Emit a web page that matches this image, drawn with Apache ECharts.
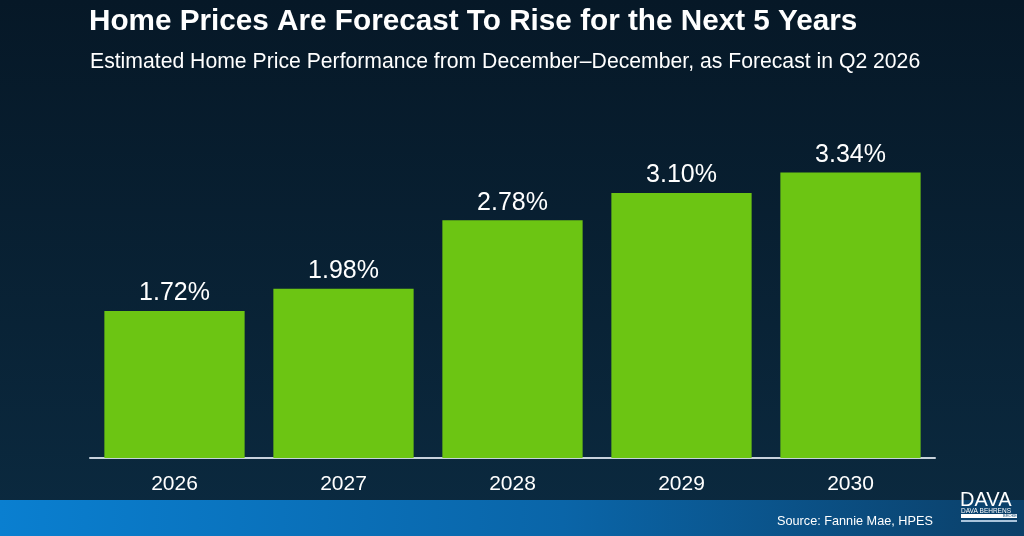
<!DOCTYPE html>
<html>
<head>
<meta charset="utf-8">
<title>Home Price Forecast</title>
<script src="https://cdn.jsdelivr.net/npm/echarts@6/dist/echarts.min.js"></script>
<style>
    html, body { margin: 0; padding: 0; background: #081c2c; }
    #chart { width: 1024px; height: 536px; }
</style>
</head>
<body>
<div id="chart"></div>
<script>
// 数据
const years = ['2026', '2027', '2028', '2029', '2030'];
const priceChange = [1.72, 1.98, 2.78, 3.10, 3.34];

const titleText = 'Home Prices Are Forecast To Rise for the Next 5 Years';
const subText = 'Estimated Home Price Performance from December\u2013December, as Forecast in Q2 2026';
const sourceText = 'Source: Fannie Mae, HPES';

const barColor = '#6cc513';
const font = '"Liberation Sans", Arial, Helvetica, sans-serif';

var chart = echarts.init(document.getElementById('chart'));

var option = {
    animation: false,
    title: [{
        text: titleText,
        left: 89,
        top: 7,
        padding: 0,
        textStyle: { color: '#ffffff', fontSize: 29.7, fontWeight: 'bold', fontFamily: font }
    }, {
        text: subText,
        left: 90,
        top: 52,
        padding: 0,
        textStyle: { color: '#ffffff', fontSize: 21.2, fontWeight: 'normal', fontFamily: font }
    }],
    graphic: [
        // 背景
        {
            type: 'rect', z: -10, silent: true,
            shape: { x: 0, y: 0, width: 1024, height: 536 },
            style: {
                fill: new echarts.graphic.LinearGradient(0, 0, 0, 1, [
                    { offset: 0, color: '#061827' },
                    { offset: 1, color: '#0b2a40' }
                ])
            }
        },
        // 底部蓝条
        {
            type: 'rect', z: -9, silent: true,
            shape: { x: 0, y: 500, width: 1024, height: 36 },
            style: {
                fill: new echarts.graphic.LinearGradient(0, 0, 1, 0, [
                    { offset: 0, color: '#0a7fd0' },
                    { offset: 0.55, color: '#0a65a8' },
                    { offset: 1, color: '#0b3f68' }
                ])
            }
        },
        {
            type: 'text', left: 777, top: 515,
            style: { text: sourceText, fill: '#ffffff', fontSize: 12.7, fontFamily: font }
        },
        // 标志
        {
            type: 'text', left: 960, top: 490,
            style: { text: 'DAVA', fill: '#ffffff', fontSize: 20, fontFamily: font }
        },
        {
            type: 'text', left: 961, top: 508,
            style: { text: 'DAVA BEHRENS', fill: '#ffffff', fontSize: 6.5, fontFamily: font }
        },
        {
            type: 'rect', silent: true,
            shape: { x: 961, y: 514, width: 56, height: 4 },
            style: { fill: '#ffffff' }
        },
        {
            type: 'text', left: 1003, top: 514,
            style: { text: 'BROKER', fill: '#0b4470', fontSize: 4, fontFamily: font }
        },
        {
            type: 'rect', silent: true,
            shape: { x: 961, y: 520, width: 56, height: 2 },
            style: { fill: '#aac4dc' }
        }
    ],
    grid: {
        left: 90,
        right: 89,
        top: 116,
        bottom: 78
    },
    xAxis: {
        type: 'category',
        data: years,
        axisLine: { lineStyle: { color: '#c8d2dc', width: 2 } },
        axisTick: { show: false },
        axisLabel: { color: '#ffffff', fontSize: 21, margin: 16, fontFamily: font }
    },
    yAxis: {
        type: 'value',
        min: 0,
        max: 4,
        show: false,
        splitLine: { show: false }
    },
    series: [{
        type: 'bar',
        data: priceChange,
        barCategoryGap: '17%',
        itemStyle: { color: barColor },
        label: {
            show: true,
            position: 'top',
            distance: 5,
            color: '#ffffff',
            fontSize: 25,
            fontFamily: font,
            formatter: function (p) {
                return p.value.toFixed(2) + '%';
            }
        }
    }]
};
chart.setOption(option);
</script>
</body>
</html>
